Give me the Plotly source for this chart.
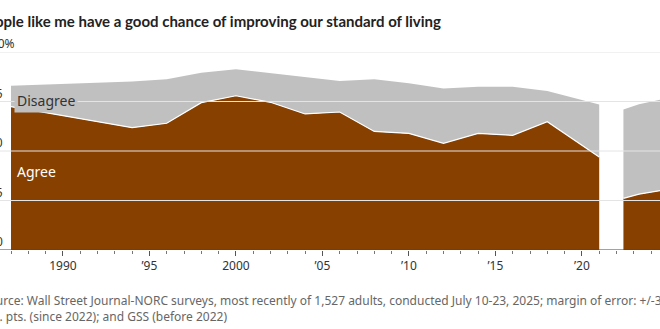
import plotly.graph_objects as go

# GSS series (1987-2021), shares in percent
gss_years = [1987, 1994, 1996, 1998, 2000, 2002, 2004, 2006, 2008, 2010, 2012, 2014, 2016, 2018, 2021]
gss_agree = [72.4, 61.8, 64.0, 74.4, 77.9, 74.6, 68.7, 69.7, 59.9, 58.9, 53.9, 58.9, 57.9, 64.8, 47.0]
gss_disagree = [10.6, 23.3, 22.2, 15.1, 13.4, 14.7, 18.6, 15.7, 26.3, 25.3, 27.7, 23.6, 24.6, 15.5, 26.5]

# WSJ-NORC series (since 2022)
norc_years = [2022.4, 2023.3, 2024.6]
norc_agree = [26.1, 28.2, 30.1]
norc_disagree = [44.9, 45.4, 45.9]

# Axis ticks
x_tickvals = [1990, 1995, 2000, 2005, 2010, 2015, 2020]
x_ticktext = ["1990", "\u201995", "2000", "\u201905", "\u201910", "\u201915", "\u201920"]
y_tickvals = [0, 25, 50, 75, 100]
y_ticktext = ["0", "25", "50", "75", "100%"]

BROWN = "#874000"
GRAY = "#c0c0c0"
FONT = "Noto Sans"
TITLE_FONT = "Lato"

W, H = 660, 329
L, R, T, B = 11, 0, 52, 79
PW = W - L - R


def px(xpix):
    """Horizontal pixel position -> paper coordinate."""
    return (xpix - L) / PW


fig = go.Figure()

for name, xs, ag, dis in [("gss", gss_years, gss_agree, gss_disagree),
                          ("norc", norc_years, norc_agree, norc_disagree)]:
    fig.add_trace(go.Scatter(
        x=xs, y=ag, stackgroup=name, mode="lines",
        line=dict(color="white", width=1.2), fillcolor=BROWN,
        hoverinfo="skip", showlegend=False))
    fig.add_trace(go.Scatter(
        x=xs, y=dis, stackgroup=name, mode="lines",
        line=dict(color=GRAY, width=0), fillcolor=GRAY,
        hoverinfo="skip", showlegend=False))

shapes = []
for v in y_tickvals[1:]:
    shapes.append(dict(type="line", xref="paper", yref="y", x0=px(-20), x1=1, y0=v, y1=v,
                       line=dict(color="#e4e4e4", width=1), layer="above"))
shapes.append(dict(type="line", xref="paper", yref="y", x0=px(-20), x1=1, y0=0, y1=0,
                   line=dict(color="#444", width=1), layer="above"))

annotations = []
for v, t in zip(y_tickvals, y_ticktext):
    shift = 12 if t.endswith("%") else 0
    annotations.append(dict(x=px(5), y=v, xref="paper", yref="y", text=t, showarrow=False,
                            xanchor="right", yanchor="bottom", xshift=shift, yshift=-2,
                            font=dict(family=FONT, size=12, color="#333")))

annotations.append(dict(x=px(14), y=75, xref="paper", yref="y", text="Disagree", showarrow=False,
                        xanchor="left", yanchor="middle", yshift=1.5, bgcolor=GRAY, borderpad=2,
                        font=dict(family=FONT, size=14, color="#333")))
annotations.append(dict(x=px(15), y=39.5, xref="paper", yref="y", text="Agree", showarrow=False,
                        xanchor="left", yanchor="middle",
                        font=dict(family=FONT, size=14, color="white")))

annotations.append(dict(x=px(-24), y=1, xref="paper", yref="paper", yshift=20,
                        text="<b>People like me have a good chance of improving our standard of living</b>",
                        showarrow=False, xanchor="left", yanchor="bottom",
                        font=dict(family=TITLE_FONT, size=15, color="#222")))

annotations.append(dict(x=px(-20), y=0, xref="paper", yref="paper", yshift=-40,
                        text="Source: Wall Street Journal-NORC surveys, most recently of 1,527 adults, "
                             "conducted July 10-23, 2025; margin of error: +/-3.1<br>"
                             "pct. pts. (since 2022); and GSS (before 2022)",
                        showarrow=False, xanchor="left", yanchor="top", align="left",
                        font=dict(family=FONT, size=12, color="#666")))

fig.update_layout(
    width=W, height=H,
    margin=dict(l=L, r=R, t=T, b=B, autoexpand=False),
    paper_bgcolor="white", plot_bgcolor="white",
    shapes=shapes, annotations=annotations,
    xaxis=dict(range=[1987, 1987 + PW / 17.3], tickvals=x_tickvals, ticktext=x_ticktext,
               ticks="outside", ticklen=5, tickcolor="#555", tickwidth=1,
               showgrid=False, zeroline=False, showline=False,
               tickfont=dict(family=FONT, size=12, color="#333"),
               minor=dict(dtick=1, tick0=1987, ticks="outside", ticklen=3, tickcolor="#777",
                          showgrid=False)),
    yaxis=dict(range=[0, 100], showgrid=False, zeroline=False, showticklabels=False,
               showline=False, ticks=""),
)

fig.write_html("out.html")
